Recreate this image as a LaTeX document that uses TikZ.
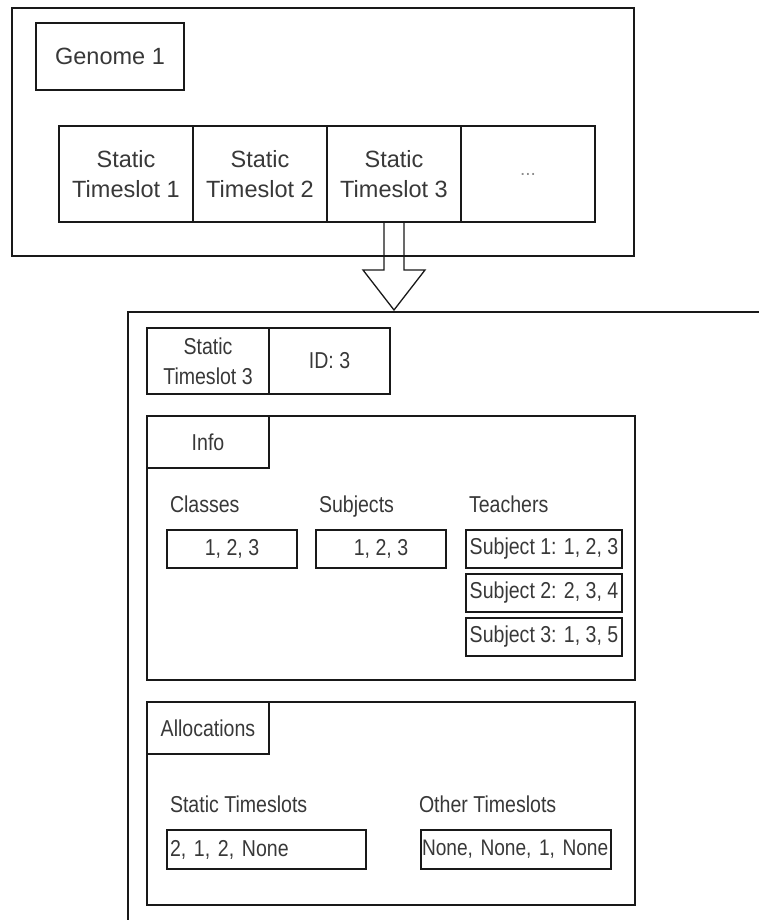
\documentclass[tikz,border=0pt]{standalone}
\usepackage{fontspec}
\setmainfont{Liberation Sans}
\newfontfamily\narrowfont[FakeStretch=0.85]{Liberation Sans}
\usetikzlibrary{positioning}

\begin{document}
\begin{tikzpicture}[x=1pt, y=-1pt, line width=1.3pt, inner sep=0pt, outer sep=0pt]
    % Define styles
    \tikzstyle{panel}=[rectangle, draw=black!90, anchor=north west]
    \tikzstyle{cell}=[rectangle, draw=black!90, text=black!78, align=center, font=\fontsize{23.5}{30}\selectfont]
    \tikzstyle{cellsm}=[cell, font=\narrowfont\fontsize{23}{30}\selectfont]
    \tikzstyle{fieldname}=[anchor=base west, text=black!78, font=\narrowfont\fontsize{23}{30}\selectfont]
    \tikzstyle{listbox}=[cellsm, anchor=north west, minimum height=38]
    \tikzstyle{hollow}=[draw=black!90, line width=1.3pt, line join=miter]

    \clip (0,0) rectangle (759,920);

    % Genome with its timeslots
    \node[panel, minimum width=622, minimum height=248] (genome) at (12,8) {};
    \node[cell, anchor=north west, minimum width=148, minimum height=67] (gname) at (36,23) {Genome 1};
    \node[cell, anchor=north west, minimum width=134, minimum height=96] (ts1) at (59,126) {Static\\Timeslot 1};
    \node[cell, minimum width=134, minimum height=96, right=0pt of ts1] (ts2) {Static\\Timeslot 2};
    \node[cell, minimum width=134, minimum height=96, right=0pt of ts2] (ts3) {Static\\Timeslot 3};
    \node[cell, minimum width=134, minimum height=96, text=black!45, font=\fontsize{19}{22}\selectfont, right=0pt of ts3] (ts4) {...};

    % Detail of one timeslot
    \node[panel, minimum width=800, minimum height=800] (detail) at (128,312) {};
    \node[cellsm, anchor=north west, minimum width=122, minimum height=66] (hdr) at (147,328) {Static\\Timeslot 3};
    \node[cellsm, minimum width=121, minimum height=66, right=0pt of hdr] (hdrid) {ID: 3};

    % Info section
    \node[panel, minimum width=488, minimum height=264] (info) at (147,416) {};
    \node[cellsm, anchor=north west, minimum width=122, minimum height=52] (infotab) at (info.north west) {Info};
    \node[fieldname] (classes) at (170,512) {Classes};
    \node[fieldname] (subjects) at (319,512) {Subjects};
    \node[fieldname] (teachers) at (469,512) {Teachers};
    \node[listbox, minimum width=130] (classval) at (167,530) {1, 2, 3};
    \node[listbox, minimum width=130] (subjval) at (316,530) {1, 2, 3};
    \node[listbox, minimum width=156] (teach1) at (466,530) {Subject 1: 1, 2, 3};
    \node[listbox, minimum width=156, below=6pt of teach1] (teach2) {Subject 2: 2, 3, 4};
    \node[listbox, minimum width=156, below=6pt of teach2] (teach3) {Subject 3: 1, 3, 5};

    % Allocations section
    \node[panel, minimum width=488, minimum height=203] (alloc) at (147,702) {};
    \node[cellsm, anchor=north west, minimum width=122, minimum height=52] (alloctab) at (alloc.north west) {Allocations};
    \node[fieldname] (staticname) at (170,812) {Static Timeslots};
    \node[fieldname] (othername) at (419,812) {Other Timeslots};
    \node[listbox, text width=193, inner xsep=3, align=left, minimum height=39] (staticval) at (167,830) {2, 1, 2, None};
    \node[listbox, text width=188, inner xsep=1, align=left, minimum height=39,
          font=\narrowfont\fontsize{22.5}{30}\selectfont] (otherval) at (421,830) {\mbox{None, None, 1, None}};

    % Connections
    \coordinate (tip) at ([yshift=2pt]ts3.south |- detail.north);
    \draw[hollow] ([xshift=-10pt]ts3.south) -- ++(0,48) -- ++(-21,0) -- (tip)
        -- ++(31,-40) -- ++(-21,0) -- ([xshift=10pt]ts3.south);
\end{tikzpicture}
\end{document}
